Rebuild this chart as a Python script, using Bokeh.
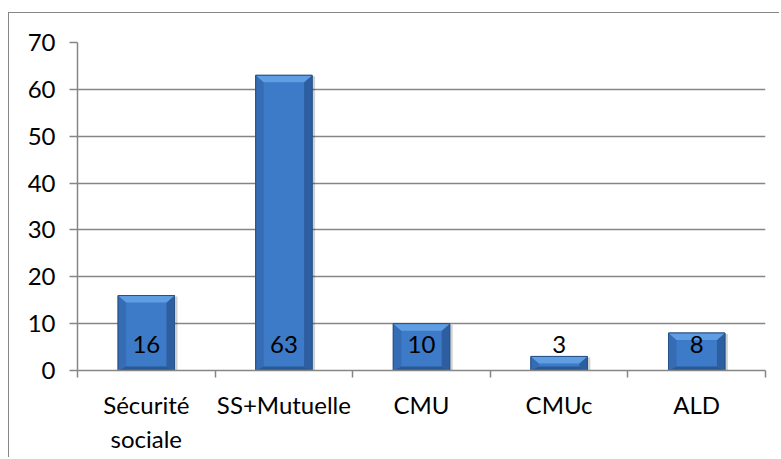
from bokeh.plotting import figure
from bokeh.models import Range1d, FixedTicker, ColumnDataSource
from bokeh.core.properties import value
from bokeh.embed import file_html
from bokeh.resources import INLINE

categories = ["Sécurité\nsociale", "SS+Mutuelle", "CMU", "CMUc", "ALD"]
values = [16, 63, 10, 3, 8]
bar_labels = ["16", "63", "10", "3", "8"]
y_ticks = [0, 10, 20, 30, 40, 50, 60, 70]

W, H = 771, 445
ML, MR, MT, MB = 68, 15, 29, 88
FONT = "Lato"
FS = "24px"
GRID = "#868686"

n = len(categories)
p = figure(width=W, height=H, output_backend="svg", toolbar_location=None,
           x_range=Range1d(0, n), y_range=Range1d(0, 70),
           min_border_left=ML, min_border_right=MR,
           min_border_top=MT, min_border_bottom=MB)
p.outline_line_color = None
p.background_fill_color = "white"
p.border_fill_color = "white"
p.styles = {"margin-left": "8px", "margin-top": "12px",
            "border-left": "1.5px solid #878787",
            "border-top": "1.5px solid #878787"}

fw = W - ML - MR
fh = H - MT - MB
px_x = n / fw
px_y = 70 / fh

p.xgrid.visible = False
p.ygrid.grid_line_color = GRID
p.ygrid.grid_line_width = 1.5
p.ygrid.ticker = FixedTicker(ticks=y_ticks)

yax = p.yaxis[0]
yax.ticker = FixedTicker(ticks=y_ticks)
yax.axis_line_color = GRID
yax.axis_line_width = 1.5
yax.major_tick_line_color = GRID
yax.major_tick_line_width = 1.5
yax.major_tick_out = 8
yax.major_tick_in = 0
yax.minor_tick_line_color = None
yax.major_label_text_font = FONT
yax.major_label_text_font_size = FS
yax.major_label_text_color = "black"
yax.major_label_standoff = 14

centers = [i + 0.5 for i in range(n)]
xax = p.xaxis[0]
xax.ticker = FixedTicker(ticks=centers, minor_ticks=list(range(n + 1)))
xax.axis_line_color = GRID
xax.axis_line_width = 1.5
xax.major_tick_out = 0
xax.major_tick_in = 0
xax.major_tick_line_color = None
xax.minor_tick_line_color = GRID
xax.minor_tick_line_width = 1.5
xax.minor_tick_out = 7
xax.minor_tick_in = 0
xax.major_label_overrides = {c: cat for c, cat in zip(centers, categories)}
xax.major_label_text_font = FONT
xax.major_label_text_font_size = FS
xax.major_label_text_color = "black"
xax.major_label_standoff = 12

half = 0.205
bx = 8 * px_x
by_top = 7 * px_y
by_bot = 4 * px_y

lefts = [c - half for c in centers]
rights = [c + half for c in centers]

# soft shadow
p.quad(left=[l + 2 * px_x for l in lefts], right=[r + 3 * px_x for r in rights],
       bottom=[0] * n, top=[v - 1 * px_y for v in values],
       fill_color="black", fill_alpha=0.18, line_color=None)

# body
p.quad(left=lefts, right=rights, bottom=[0] * n, top=values,
       fill_color="#3D7AC7", line_color="#28528a", line_width=1)

top_xs, top_ys, lf_xs, lf_ys, rt_xs, rt_ys, bt_xs, bt_ys = [], [], [], [], [], [], [], []
for l, r, t in zip(lefts, rights, values):
    top_xs.append([l, r, r - bx, l + bx])
    top_ys.append([t, t, t - by_top, t - by_top])
    lf_xs.append([l, l + bx, l + bx, l])
    lf_ys.append([t, t - by_top, by_bot, 0])
    rt_xs.append([r, r, r - bx, r - bx])
    rt_ys.append([t, 0, by_bot, t - by_top])
    bt_xs.append([l, l + bx, r - bx, r])
    bt_ys.append([0, by_bot, by_bot, 0])

p.patches(lf_xs, lf_ys, fill_color="#356CB4", line_color=None)
p.patches(rt_xs, rt_ys, fill_color="#2D5E9F", line_color=None)
p.patches(bt_xs, bt_ys, fill_color="#2B5994", line_color=None)
p.patches(top_xs, top_ys, fill_color="#5F9EE3", line_color=None)
p.quad(left=lefts, right=rights, bottom=[0] * n, top=values,
       fill_color=None, line_color="#28528a", line_width=1)

src = ColumnDataSource(dict(x=centers, y=[5.6] * n, t=bar_labels))
p.text(x="x", y="y", text="t", source=src, text_align="center",
       text_baseline="middle", text_font=value(FONT),
       text_font_size=FS, text_color="black")

open("out.html", "w").write(file_html(p, INLINE))
